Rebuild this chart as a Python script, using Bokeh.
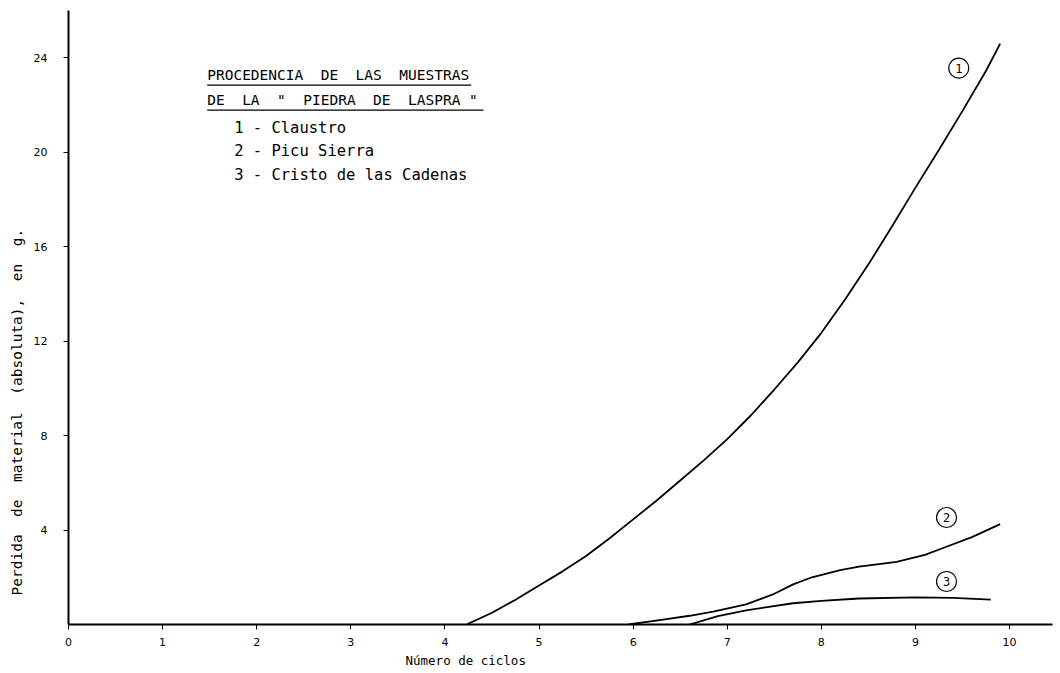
from bokeh.plotting import figure
from bokeh.models import Range1d, FixedTicker, Label, Title
from bokeh.embed import file_html
from bokeh.resources import INLINE
from bokeh.core.properties import value

# ---- data ----
x_ticks = [0, 1, 2, 3, 4, 5, 6, 7, 8, 9, 10]
y_ticks = [4, 8, 12, 16, 20, 24]

claustro_x = [4.23, 4.5, 4.75, 5.0, 5.25, 5.5, 5.75, 6.0, 6.25, 6.5, 6.75, 7.0, 7.25,
              7.5, 7.75, 8.0, 8.25, 8.5, 8.75, 9.0, 9.25, 9.5, 9.75, 9.9]
claustro_y = [0.0, 0.5, 1.05, 1.65, 2.25, 2.9, 3.65, 4.45, 5.25, 6.1, 6.95, 7.85, 8.85,
              9.95, 11.1, 12.35, 13.75, 15.25, 16.85, 18.5, 20.1, 21.75, 23.45, 24.6]

picu_x = [5.95, 6.3, 6.6, 6.85, 7.2, 7.5, 7.7, 7.9, 8.2, 8.4, 8.8, 9.1, 9.3, 9.6, 9.9]
picu_y = [0.0, 0.2, 0.37, 0.55, 0.85, 1.3, 1.7, 2.0, 2.3, 2.45, 2.65, 2.95, 3.25, 3.7, 4.25]

cristo_x = [6.6, 6.9, 7.2, 7.7, 8.0, 8.4, 9.0, 9.4, 9.8]
cristo_y = [0.0, 0.35, 0.6, 0.9, 1.0, 1.1, 1.15, 1.13, 1.05]

series_tags = ["1", "2", "3"]
tag_x = [9.46, 9.33, 9.33]
tag_y = [23.56, 4.53, 1.82]

NB = "\u00a0"
title_lines = ["PROCEDENCIA " + NB + "DE " + NB + "LAS " + NB + "MUESTRAS",
               "DE " + NB + "LA " + NB + "\" " + NB + "PIEDRA " + NB + "DE " + NB + "LASPRA \""]
legend_lines = ["1 - Claustro", "2 - Picu Sierra", "3 - Cristo de las Cadenas"]
x_title = "Número de ciclos"
y_title = ("Perdida " + NB + "de " + NB + "material " + NB + "(absoluta), " + NB
           + "en " + NB + "g.")

FONT = "DejaVu Sans Mono"
TICK_FONT = "DejaVu Sans"

p = figure(width=1060, height=673, output_backend="svg", toolbar_location=None,
           x_range=Range1d(0, 10.456), y_range=Range1d(0, 26.0),
           min_border_left=66, min_border_right=8, min_border_top=10, min_border_bottom=49)
p.outline_line_color = None
p.xgrid.visible = False
p.ygrid.visible = False
p.background_fill_color = "white"
p.border_fill_color = "white"

# axes
p.xaxis.ticker = FixedTicker(ticks=x_ticks)
p.yaxis.ticker = FixedTicker(ticks=y_ticks)
for ax in (p.xaxis[0], p.yaxis[0]):
    ax.axis_line_color = "black"
    ax.axis_line_width = 2
    ax.major_tick_line_color = "black"
    ax.major_tick_line_width = 1
    ax.major_tick_in = 0
    ax.major_tick_out = 5
    ax.minor_tick_line_color = None
    ax.major_label_text_font = TICK_FONT
    ax.major_label_text_font_size = "11px"
    ax.major_label_text_color = "black"
p.xaxis.major_label_standoff = 8
p.yaxis.major_label_standoff = 16

# axis titles as side-panel titles (offset like the original)
p.add_layout(Title(text=x_title, align="left", offset=337, standoff=5,
                   text_font=FONT, text_font_size="12.5px", text_font_style="normal",
                   text_color="black"), "below")
p.add_layout(Title(text=y_title, align="left", offset=29, standoff=12,
                   text_font=FONT, text_font_size="14.5px", text_font_style="normal",
                   text_color="black"), "left")

# curves
for xs, ys in ((claustro_x, claustro_y), (picu_x, picu_y), (cristo_x, cristo_y)):
    p.line(xs, ys, line_color="black", line_width=1.8)

# circled series tags
p.scatter(tag_x, tag_y, marker="circle", size=20, fill_color="white",
          line_color="black", line_width=1.2)
p.text(tag_x, tag_y, text=series_tags, text_align="center", text_baseline="middle",
       text_font=value(FONT), text_font_size="12px", text_color="black")

# title block (annotation layout)
title_x = 1.474
title_y = [23.26, 22.2]
underline_y = [22.84, 21.78]
underline_end = [4.28, 4.41]
for t, ty in zip(title_lines, title_y):
    p.add_layout(Label(x=title_x, y=ty, text=t, text_baseline="middle",
                       text_font=FONT, text_font_size="14.5px", text_color="black"))
for uy, ue in zip(underline_y, underline_end):
    p.line([title_x, ue], [uy, uy], line_color="black", line_width=1.2)

legend_x = 1.76
legend_y = [21.02, 20.04, 19.03]
for t, ly in zip(legend_lines, legend_y):
    p.add_layout(Label(x=legend_x, y=ly, text=t, text_baseline="middle",
                       text_font=FONT, text_font_size="15.5px", text_color="black"))

open("out.html", "w").write(file_html(p, INLINE))
